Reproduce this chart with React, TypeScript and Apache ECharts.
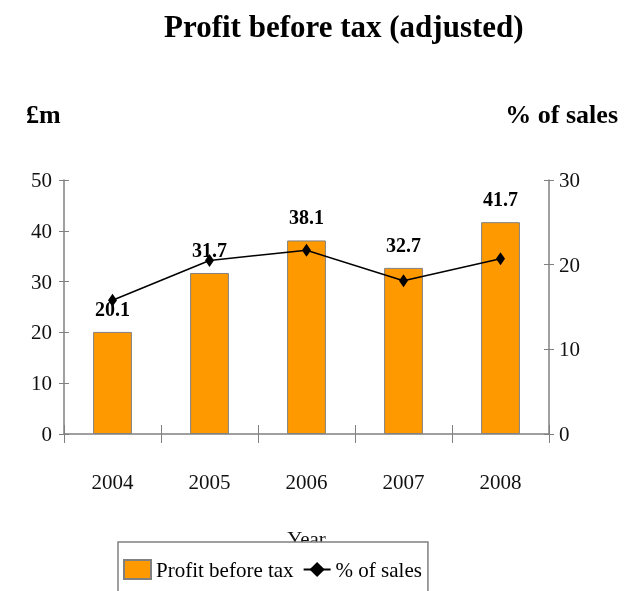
import React, { useEffect, useRef } from "react";
import * as echarts from "echarts";

const years = ["2004", "2005", "2006", "2007", "2008"];
const profit = [20.1, 31.7, 38.1, 32.7, 41.7];
const pctSales = [15.8, 20.5, 21.7, 18.1, 20.7];
const leftTicks = { min: 0, max: 50, interval: 10 };
const rightTicks = { min: 0, max: 30, interval: 10 };

const FONT = "'Liberation Serif', 'Times New Roman', serif";
const AXIS = "#808080";

export default function App() {
  const ref = useRef<HTMLDivElement>(null);
  useEffect(() => {
    const chart = echarts.init(ref.current!, null, { renderer: "svg" });
    const axisLbl = { fontFamily: FONT, fontSize: 21, color: "#111" };
    chart.setOption({
      animation: false,
      textStyle: { fontFamily: FONT },
      title: [
        { text: "Profit before tax (adjusted)", left: 159, top: 6, textStyle: { fontFamily: FONT, fontSize: 31, fontWeight: "bold", color: "#000" } },
        { text: "£m", left: 21, top: 96, textStyle: { fontFamily: FONT, fontSize: 26, fontWeight: "bold", color: "#000" } },
        { text: "% of sales", right: 4, top: 96, textStyle: { fontFamily: FONT, fontSize: 26, fontWeight: "bold", color: "#000" } },
      ],
      grid: { left: 64, right: 78, top: 180, bottom: 157 },
      xAxis: [
        {
          type: "category", data: years, position: "bottom",
          axisLine: { lineStyle: { color: AXIS, width: 1.5 } },
          axisTick: { show: true, length: 9, lineStyle: { color: AXIS } },
          axisLabel: { ...axisLbl, margin: 37 },
          name: "Year", nameLocation: "middle", nameGap: 94,
          nameTextStyle: { fontFamily: FONT, fontSize: 21, color: "#111" },
        },
        {
          type: "category", data: years, position: "bottom",
          axisLine: { show: false },
          axisTick: { show: true, inside: true, length: 9, lineStyle: { color: AXIS } },
          axisLabel: { show: false },
        },
      ],
      yAxis: [
        {
          type: "value", ...leftTicks, position: "left",
          axisLine: { show: true, lineStyle: { color: AXIS, width: 1.5 } },
          axisTick: { show: true, length: 5, lineStyle: { color: AXIS } },
          axisLabel: { ...axisLbl, margin: 12 },
          splitLine: { show: false },
        },
        {
          type: "value", ...rightTicks, position: "right",
          axisLine: { show: true, lineStyle: { color: AXIS, width: 1.5 } },
          axisTick: { show: true, length: 5, lineStyle: { color: AXIS } },
          axisLabel: { ...axisLbl, margin: 10 },
          splitLine: { show: false },
        },
        {
          type: "value", ...leftTicks, position: "left",
          axisLine: { show: false },
          axisTick: { show: true, inside: true, length: 5, lineStyle: { color: AXIS } },
          axisLabel: { show: false }, splitLine: { show: false },
        },
        {
          type: "value", ...rightTicks, position: "right",
          axisLine: { show: false },
          axisTick: { show: true, inside: true, length: 5, lineStyle: { color: AXIS } },
          axisLabel: { show: false }, splitLine: { show: false },
        },
      ],
      legend: {
        left: 118, top: 542,
        padding: [17, 6, 20, 5],
        borderColor: AXIS, borderWidth: 1.5, borderRadius: 0,
        backgroundColor: "#fff",
        itemWidth: 27, itemHeight: 19, itemGap: 9,
        textStyle: { fontFamily: FONT, fontSize: 21, color: "#000", padding: [0, 0, 0, 0] },
        data: [
          { name: "Profit before tax", icon: "rect" },
          { name: "% of sales" },
        ],
        z: 10,
      },
      series: [
        {
          name: "Profit before tax", type: "bar", data: profit,
          xAxisIndex: 0, yAxisIndex: 0,
          barWidth: "40%",
          itemStyle: { color: "#FF9900", borderColor: AXIS, borderWidth: 1 },
          label: { show: true, position: "top", distance: 13, fontFamily: FONT, fontSize: 20, fontWeight: "bold", color: "#000", formatter: (p: any) => p.value.toFixed(1) },
        },
        {
          name: "% of sales", type: "line", data: pctSales,
          xAxisIndex: 0, yAxisIndex: 1,
          symbol: "diamond", symbolSize: [9, 13],
          lineStyle: { color: "#000", width: 1.5 },
          itemStyle: { color: "#000" },
          z: 5,
        },
      ],
    });
    return () => chart.dispose();
  }, []);
  return <div ref={ref} style={{ position: "fixed", left: 0, top: 0, width: 627, height: 591 }} />;
}
